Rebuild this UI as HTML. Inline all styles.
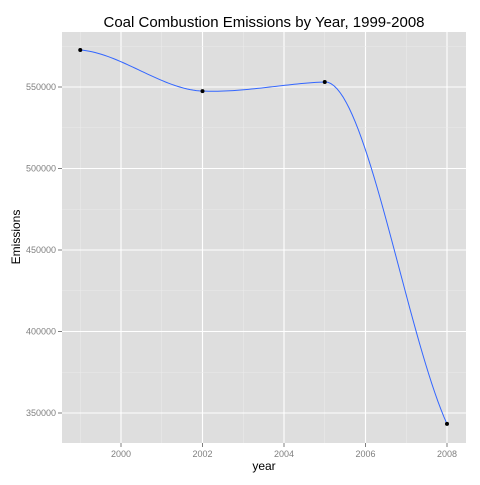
<!DOCTYPE html>
<html><head><meta charset="utf-8"><style>
body{margin:0;background:#fff;}
text{font-family:"Liberation Sans",sans-serif;}
</style></head><body>
<svg id="c" width="480" height="480" xmlns="http://www.w3.org/2000/svg">
<text x="264" y="27" text-anchor="middle" font-size="15" fill="#000">Coal Combustion Emissions by Year, 1999-2008</text>
<rect x="62" y="32" width="404" height="411" fill="#dedede"/>
<g id="grid"></g><g id="ticks"></g><g id="series"></g>
<text x="264" y="470" text-anchor="middle" font-size="12">year</text>
<text transform="translate(20,237) rotate(-90)" text-anchor="middle" font-size="12">Emissions</text>
</svg>
<script>
const years=[1999,2002,2005,2008];
const emissions=[572700,547500,553100,343300];
const smoothSlopes=[-2000,-1000,1000,-55000];
const xTicks=[2000,2002,2004,2006,2008];
const yTicks=[350000,400000,450000,500000,550000];
const NS="http://www.w3.org/2000/svg";
const X=v=>121+(v-2000)*40.75;
const Y=v=>87-(v-550000)*0.00163;
function mk(t,a,p){const e=document.createElementNS(NS,t);for(const k in a)e.setAttribute(k,a[k]);p.appendChild(e);return e;}
const g=document.getElementById('grid'),tk=document.getElementById('ticks'),s=document.getElementById('series');
xTicks.forEach(v=>{
 const m=v-1;const ml=mk('line',{x1:X(m),x2:X(m),y1:32,y2:443,stroke:'#ebebeb','stroke-width':0.6},g);
 
 const l=mk('line',{x1:X(v),x2:X(v),y1:32,y2:443,stroke:'#fff','stroke-width':1.1},g);
 
 mk('line',{x1:X(v),x2:X(v),y1:443,y2:447,stroke:'#7f7f7f'},tk);
 const t=mk('text',{x:X(v),y:457,'text-anchor':'middle','font-size':9,fill:'#7f7f7f'},tk);t.textContent=v;
 
});
yTicks.forEach(v=>{
 const ml=mk('line',{x1:62,x2:466,y1:Y(v+25000),y2:Y(v+25000),stroke:'#ebebeb','stroke-width':0.6},g);
 
 const l=mk('line',{x1:62,x2:466,y1:Y(v),y2:Y(v),stroke:'#fff','stroke-width':1.1},g);
 
 mk('line',{x1:58,x2:62,y1:Y(v),y2:Y(v),stroke:'#7f7f7f'},tk);
 const t=mk('text',{x:56,y:Y(v)+3,'text-anchor':'end','font-size':9,fill:'#7f7f7f'},tk);t.textContent=v;
 
});
// cubic Hermite smoother
let dstr='';
for(let j=0;j<years.length-1;j++){
 const h=years[j+1]-years[j];
 for(let k=0;k<=40;k++){const t=k/40,t2=t*t,t3=t2*t;
  const v=(2*t3-3*t2+1)*emissions[j]+(t3-2*t2+t)*h*smoothSlopes[j]+(-2*t3+3*t2)*emissions[j+1]+(t3-t2)*h*smoothSlopes[j+1];
  dstr+=(dstr?'L':'M')+X(years[j]+t*h).toFixed(2)+','+Y(v).toFixed(2);}
}
const p=mk('path',{d:dstr,fill:'none',stroke:'#3366ff','stroke-width':1},s);

years.forEach((yr,i)=>{const pt=mk('circle',{cx:X(yr),cy:Y(emissions[i]),r:2,fill:'#000'},s);
 });
</script>
</body></html>
